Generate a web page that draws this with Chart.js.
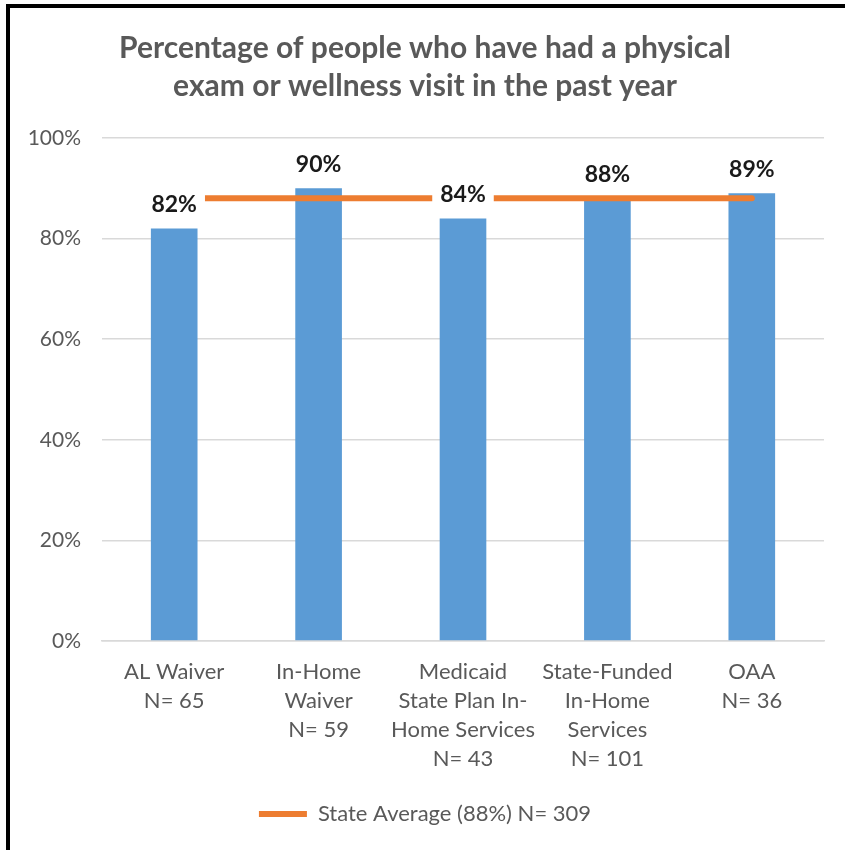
<!DOCTYPE html>
<html>
<head>
<meta charset="utf-8">
<script src="https://cdn.jsdelivr.net/npm/chart.js@4/dist/chart.umd.min.js"></script>
<style>
  html, body { margin: 0; padding: 0; background: #fff; }
  #wrap { position: relative; width: 845px; height: 850px; overflow: hidden; background: #fff; }
  #frame { position: absolute; left: 6px; top: 4px; right: -10px; bottom: -10px;
           border-left: 4px solid #000; border-top: 4px solid #000; pointer-events: none; z-index: 2; }
  canvas { position: absolute; left: 0; top: 0; }
</style>
</head>
<body>
<div id="wrap">
  <canvas id="c" width="845" height="850"></canvas>
  <div id="frame"></div>
</div>
<script>
// ---- data ----
const titleLines = ["Percentage of people who have had a physical", "exam or wellness visit in the past year"];
const categories = [
  ["AL Waiver", "N= 65"],
  ["In-Home", "Waiver", "N= 59"],
  ["Medicaid", "State Plan In-", "Home Services", "N= 43"],
  ["State-Funded", "In-Home", "Services", "N= 101"],
  ["OAA", "N= 36"]
];
const programValues = [82, 90, 84, 88, 89];
const stateAverageValues = [88, 88, 88, 88, 88];
const stateAverageLabel = "State Average (88%) N= 309";
const yTickValues = [0, 20, 40, 60, 80, 100];

const FONT = "Lato, 'Open Sans', 'DejaVu Sans', sans-serif";
const GRAY = "#595959";

const barLabels = {
  id: "barLabels",
  afterDatasetsDraw(chart) {
    const ctx = chart.ctx;
    const meta = chart.getDatasetMeta(1);
    const ds = chart.data.datasets[1];
    ctx.save();
    ctx.font = "bold 23px " + FONT;
    ctx.textAlign = "center";
    ctx.textBaseline = "middle";
    meta.data.forEach((bar, i) => {
      const txt = ds.data[i] + "%";
      const w = ctx.measureText(txt).width;
      const cy = bar.y - 25;
      ctx.fillStyle = "#ffffff";
      ctx.fillRect(bar.x - w / 2 - 8, cy - 13, w + 16, 26);
      ctx.fillStyle = "#1a1a1a";
      ctx.fillText(txt, bar.x, cy + 1);
    });
    ctx.restore();
  }
};

new Chart(document.getElementById("c"), {
  data: {
    labels: categories,
    datasets: [
      {
        type: "line",
        label: stateAverageLabel,
        data: stateAverageValues,
        borderColor: "#ED7D31",
        backgroundColor: "#ED7D31",
        borderWidth: 6,
        borderCapStyle: "round",
        pointRadius: 0,
        pointHoverRadius: 0,
        fill: false,
        order: 0
      },
      {
        type: "bar",
        label: "Programs",
        data: programValues,
        backgroundColor: "#5B9BD5",
        borderWidth: 0,
        barPercentage: 0.323,
        categoryPercentage: 1,
        order: 1
      }
    ]
  },
  options: {
    responsive: false,
    animation: false,
    devicePixelRatio: 1,
    layout: { padding: { left: 26, right: 21, top: 0, bottom: 15 } },
    plugins: {
      tooltip: { enabled: false },
      title: {
        display: true,
        text: titleLines,
        color: GRAY,
        font: { family: FONT, size: 30, weight: "bold", lineHeight: 38 / 30 },
        padding: { top: 29, bottom: 33 }
      },
      legend: {
        display: true,
        position: "bottom",
        labels: {
          filter: (item) => item.datasetIndex === 0,
          usePointStyle: true,
          pointStyle: "line",
          pointStyleWidth: 48,
          color: GRAY,
          font: { family: FONT, size: 22 },
          padding: 10
        }
      }
    },
    scales: {
      x: {
        grid: { display: false, drawTicks: false },
        border: { display: true, color: "#D9D9D9", width: 1.5 },
        ticks: {
          color: GRAY,
          font: { family: FONT, size: 22, lineHeight: 28.7 / 22 },
          padding: 17,
          maxRotation: 0,
          autoSkip: false
        },
        afterFit(scale) { scale.height = 152; }
      },
      y: {
        min: 0,
        max: 100,
        afterBuildTicks(scale) { scale.ticks = yTickValues.map(v => ({ value: v })); },
        grid: { color: "#D9D9D9", lineWidth: 1.5, drawTicks: false },
        border: { display: false },
        ticks: {
          color: GRAY,
          font: { family: FONT, size: 21 },
          padding: 21,
          callback: (v) => v + "%"
        },
        afterFit(scale) { scale.width = 76; }
      }
    }
  },
  plugins: [barLabels]
});
</script>
</body>
</html>
